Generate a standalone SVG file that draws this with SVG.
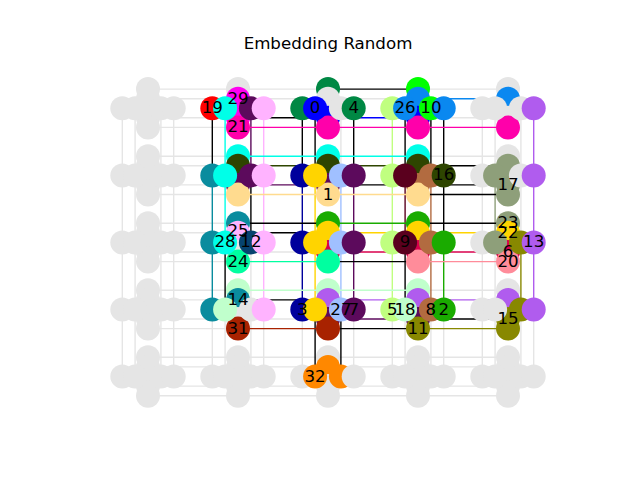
<svg xmlns="http://www.w3.org/2000/svg" width="640" height="480" viewBox="0 0 640 480">
<style>
#edges line{stroke-width:1.4;fill:none}
#nodes circle{stroke:none}
text{font-family:"DejaVu Sans","Liberation Sans",sans-serif;fill:#000}
.lbl{font-size:16.67px;text-anchor:middle}
.g{fill:#e5e5e5;stroke:#e5e5e5}
.k{stroke:#000}
.c0{fill:#0000ff;stroke:#0000ff}
.c1{fill:#ffdb8f;stroke:#ffdb8f}
.c2{fill:#1aab00;stroke:#1aab00}
.c3{fill:#00009c;stroke:#00009c}
.c4{fill:#008844;stroke:#008844}
.c5{fill:#c0ff80;stroke:#c0ff80}
.c6{fill:#d9004c;stroke:#d9004c}
.c7{fill:#5c0a5c;stroke:#5c0a5c}
.c8{fill:#b26b40;stroke:#b26b40}
.c9{fill:#5a001e;stroke:#5a001e}
.c10{fill:#00ff00;stroke:#00ff00}
.c11{fill:#888800;stroke:#888800}
.c12{fill:#06436f;stroke:#06436f}
.c13{fill:#b05cee;stroke:#b05cee}
.c14{fill:#0a8c9e;stroke:#0a8c9e}
.c15{fill:#888800;stroke:#888800}
.c16{fill:#2e4500;stroke:#2e4500}
.c17{fill:#8e9f7a;stroke:#8e9f7a}
.c18{fill:#c0ffcc;stroke:#c0ffcc}
.c19{fill:#ff0000;stroke:#ff0000}
.c20{fill:#ff8c9a;stroke:#ff8c9a}
.c21{fill:#ff00aa;stroke:#ff00aa}
.c22{fill:#ffd400;stroke:#ffd400}
.c23{fill:#8e9f7a;stroke:#8e9f7a}
.c24{fill:#00ffa0;stroke:#00ffa0}
.c25{fill:#ffb3ff;stroke:#ffb3ff}
.c26{fill:#0a88f0;stroke:#0a88f0}
.c27{fill:#a0c0ff;stroke:#a0c0ff}
.c28{fill:#00ffe8;stroke:#00ffe8}
.c29{fill:#ff00f0;stroke:#ff00f0}
.c31{fill:#a82200;stroke:#a82200}
.c32{fill:#ff8800;stroke:#ff8800}
</style>
<rect width="640" height="480" fill="#ffffff"/>
<text x="328" y="49.3" font-size="16.67" text-anchor="middle">Embedding Random</text>
<g id="edges">
<g id="unused-edges">
<line class="g" x1="122.3" y1="108.3" x2="122.3" y2="376.5"/>
<line class="g" x1="135.1" y1="108.3" x2="135.1" y2="376.5"/>
<line class="g" x1="160.9" y1="108.3" x2="160.9" y2="376.5"/>
<line class="g" x1="173.7" y1="108.3" x2="173.7" y2="376.5"/>
<line class="g" x1="212.3" y1="309.5" x2="212.3" y2="376.5"/>
<line class="g" x1="225.1" y1="309.5" x2="225.1" y2="376.5"/>
<line class="g" x1="250.9" y1="242.4" x2="250.9" y2="376.5"/>
<line class="g" x1="263.7" y1="309.5" x2="263.7" y2="376.5"/>
<line class="g" x1="302.3" y1="309.5" x2="302.3" y2="376.5"/>
<line class="g" x1="340.9" y1="108.3" x2="340.9" y2="175.4"/>
<line class="g" x1="353.7" y1="309.5" x2="353.7" y2="376.5"/>
<line class="g" x1="392.3" y1="309.5" x2="392.3" y2="376.5"/>
<line class="g" x1="405.1" y1="309.5" x2="405.1" y2="376.5"/>
<line class="g" x1="430.9" y1="309.5" x2="430.9" y2="376.5"/>
<line class="g" x1="443.7" y1="309.5" x2="443.7" y2="376.5"/>
<line class="g" x1="482.3" y1="108.3" x2="482.3" y2="376.5"/>
<line class="g" x1="495.1" y1="108.3" x2="495.1" y2="175.4"/>
<line class="g" x1="495.1" y1="242.4" x2="495.1" y2="376.5"/>
<line class="g" x1="520.9" y1="108.3" x2="520.9" y2="242.4"/>
<line class="g" x1="520.9" y1="309.5" x2="520.9" y2="376.5"/>
<line class="g" x1="533.7" y1="309.5" x2="533.7" y2="376.5"/>
<line class="g" x1="148" y1="89.1" x2="328" y2="89.1"/>
<line class="g" x1="418" y1="89.1" x2="508" y2="89.1"/>
<line class="g" x1="148" y1="98.7" x2="418" y2="98.7"/>
<line class="g" x1="148" y1="117.8" x2="238" y2="117.8"/>
<line class="g" x1="418" y1="117.8" x2="508" y2="117.8"/>
<line class="g" x1="148" y1="127.4" x2="238" y2="127.4"/>
<line class="g" x1="148" y1="156.2" x2="238" y2="156.2"/>
<line class="g" x1="418" y1="156.2" x2="508" y2="156.2"/>
<line class="g" x1="148" y1="165.8" x2="238" y2="165.8"/>
<line class="g" x1="148" y1="184.9" x2="238" y2="184.9"/>
<line class="g" x1="148" y1="194.5" x2="238" y2="194.5"/>
<line class="g" x1="148" y1="223.2" x2="238" y2="223.2"/>
<line class="g" x1="148" y1="232.8" x2="238" y2="232.8"/>
<line class="g" x1="148" y1="252" x2="328" y2="252"/>
<line class="g" x1="148" y1="261.6" x2="238" y2="261.6"/>
<line class="g" x1="148" y1="290.3" x2="238" y2="290.3"/>
<line class="g" x1="418" y1="290.3" x2="508" y2="290.3"/>
<line class="g" x1="148" y1="299.9" x2="238" y2="299.9"/>
<line class="g" x1="148" y1="319" x2="328" y2="319"/>
<line class="g" x1="148" y1="328.6" x2="238" y2="328.6"/>
<line class="g" x1="148" y1="357.3" x2="508" y2="357.3"/>
<line class="g" x1="148" y1="366.9" x2="508" y2="366.9"/>
<line class="g" x1="148" y1="386.1" x2="508" y2="386.1"/>
<line class="g" x1="148" y1="395.7" x2="508" y2="395.7"/>
</g>
<g id="chain-edges">
<line class="k" x1="212.3" y1="108.3" x2="212.3" y2="175.4"/>
<line class="c14" x1="212.3" y1="175.4" x2="212.3" y2="309.5"/>
<line class="c28" x1="225.1" y1="108.3" x2="225.1" y2="242.4"/>
<line class="k" x1="225.1" y1="242.4" x2="225.1" y2="309.5"/>
<line class="c7" x1="250.9" y1="108.3" x2="250.9" y2="175.4"/>
<line class="k" x1="250.9" y1="175.4" x2="250.9" y2="242.4"/>
<line class="c25" x1="263.7" y1="108.3" x2="263.7" y2="309.5"/>
<line class="k" x1="302.3" y1="108.3" x2="302.3" y2="175.4"/>
<line class="c3" x1="302.3" y1="175.4" x2="302.3" y2="309.5"/>
<line class="k" x1="315.1" y1="108.3" x2="315.1" y2="175.4"/>
<line class="c22" x1="315.1" y1="175.4" x2="315.1" y2="309.5"/>
<line class="k" x1="315.1" y1="309.5" x2="315.1" y2="376.5"/>
<line class="c27" x1="340.9" y1="175.4" x2="340.9" y2="309.5"/>
<line class="k" x1="340.9" y1="309.5" x2="340.9" y2="376.5"/>
<line class="k" x1="353.7" y1="108.3" x2="353.7" y2="175.4"/>
<line class="c7" x1="353.7" y1="175.4" x2="353.7" y2="309.5"/>
<line class="c5" x1="392.3" y1="108.3" x2="392.3" y2="309.5"/>
<line class="k" x1="405.1" y1="108.3" x2="405.1" y2="175.4"/>
<line class="c9" x1="405.1" y1="175.4" x2="405.1" y2="242.4"/>
<line class="k" x1="405.1" y1="242.4" x2="405.1" y2="309.5"/>
<line class="k" x1="430.9" y1="108.3" x2="430.9" y2="175.4"/>
<line class="c8" x1="430.9" y1="175.4" x2="430.9" y2="309.5"/>
<line class="k" x1="443.7" y1="108.3" x2="443.7" y2="242.4"/>
<line class="c2" x1="443.7" y1="242.4" x2="443.7" y2="309.5"/>
<line class="c17" x1="495.1" y1="175.4" x2="495.1" y2="242.4"/>
<line class="c15" x1="520.9" y1="242.4" x2="520.9" y2="309.5"/>
<line class="c13" x1="533.7" y1="108.3" x2="533.7" y2="309.5"/>
<line class="k" x1="328" y1="89.1" x2="418" y2="89.1"/>
<line class="c26" x1="418" y1="98.7" x2="508" y2="98.7"/>
<line class="k" x1="238" y1="117.8" x2="328" y2="117.8"/>
<line class="c0" x1="328" y1="117.8" x2="418" y2="117.8"/>
<line class="c21" x1="238" y1="127.4" x2="508" y2="127.4"/>
<line class="c28" x1="238" y1="156.2" x2="418" y2="156.2"/>
<line class="c16" x1="238" y1="165.8" x2="418" y2="165.8"/>
<line class="k" x1="418" y1="165.8" x2="508" y2="165.8"/>
<line class="c7" x1="238" y1="184.9" x2="328" y2="184.9"/>
<line class="k" x1="328" y1="184.9" x2="508" y2="184.9"/>
<line class="c1" x1="238" y1="194.5" x2="418" y2="194.5"/>
<line class="k" x1="418" y1="194.5" x2="508" y2="194.5"/>
<line class="k" x1="238" y1="223.2" x2="328" y2="223.2"/>
<line class="c2" x1="328" y1="223.2" x2="418" y2="223.2"/>
<line class="k" x1="418" y1="223.2" x2="508" y2="223.2"/>
<line class="k" x1="238" y1="232.8" x2="328" y2="232.8"/>
<line class="c22" x1="328" y1="232.8" x2="508" y2="232.8"/>
<line class="c6" x1="328" y1="252" x2="508" y2="252"/>
<line class="c24" x1="238" y1="261.6" x2="328" y2="261.6"/>
<line class="k" x1="328" y1="261.6" x2="418" y2="261.6"/>
<line class="c20" x1="418" y1="261.6" x2="508" y2="261.6"/>
<line class="c18" x1="238" y1="290.3" x2="418" y2="290.3"/>
<line class="k" x1="238" y1="299.9" x2="328" y2="299.9"/>
<line class="c13" x1="328" y1="299.9" x2="508" y2="299.9"/>
<line class="c7" x1="328" y1="319" x2="418" y2="319"/>
<line class="k" x1="418" y1="319" x2="508" y2="319"/>
<line class="c31" x1="238" y1="328.6" x2="328" y2="328.6"/>
<line class="k" x1="328" y1="328.6" x2="418" y2="328.6"/>
<line class="c11" x1="418" y1="328.6" x2="508" y2="328.6"/>
</g>
</g>
<g id="nodes">
<g id="t00"><circle class="g" cx="148" cy="89.1" r="12"/><circle class="g" cx="148" cy="98.7" r="12"/><circle class="g" cx="148" cy="117.8" r="12"/><circle class="g" cx="148" cy="127.4" r="12"/><circle class="g" cx="122.3" cy="108.3" r="12"/><circle class="g" cx="135.1" cy="108.3" r="12"/><circle class="g" cx="160.9" cy="108.3" r="12"/><circle class="g" cx="173.7" cy="108.3" r="12"/></g>
<g id="t01"><circle class="g" cx="238" cy="89.1" r="12"/><circle class="c29" cx="238" cy="98.7" r="12"/><circle class="c29" cx="238" cy="117.8" r="12"/><circle class="c21" cx="238" cy="127.4" r="12"/><circle class="c19" cx="212.3" cy="108.3" r="12"/><circle class="c28" cx="225.1" cy="108.3" r="12"/><circle class="c7" cx="250.9" cy="108.3" r="12"/><circle class="c25" cx="263.7" cy="108.3" r="12"/></g>
<g id="t02"><circle class="c4" cx="328" cy="89.1" r="12"/><circle class="g" cx="328" cy="98.7" r="12"/><circle class="c0" cx="328" cy="117.8" r="12"/><circle class="c21" cx="328" cy="127.4" r="12"/><circle class="c4" cx="302.3" cy="108.3" r="12"/><circle class="c0" cx="315.1" cy="108.3" r="12"/><circle class="g" cx="340.9" cy="108.3" r="12"/><circle class="c4" cx="353.7" cy="108.3" r="12"/></g>
<g id="t03"><circle class="c10" cx="418" cy="89.1" r="12"/><circle class="c26" cx="418" cy="98.7" r="12"/><circle class="c0" cx="418" cy="117.8" r="12"/><circle class="c21" cx="418" cy="127.4" r="12"/><circle class="c5" cx="392.3" cy="108.3" r="12"/><circle class="c26" cx="405.1" cy="108.3" r="12"/><circle class="c10" cx="430.9" cy="108.3" r="12"/><circle class="c26" cx="443.7" cy="108.3" r="12"/></g>
<g id="t04"><circle class="g" cx="508" cy="89.1" r="12"/><circle class="c26" cx="508" cy="98.7" r="12"/><circle class="g" cx="508" cy="117.8" r="12"/><circle class="c21" cx="508" cy="127.4" r="12"/><circle class="g" cx="482.3" cy="108.3" r="12"/><circle class="g" cx="495.1" cy="108.3" r="12"/><circle class="g" cx="520.9" cy="108.3" r="12"/><circle class="c13" cx="533.7" cy="108.3" r="12"/></g>
<g id="t10"><circle class="g" cx="148" cy="156.2" r="12"/><circle class="g" cx="148" cy="165.8" r="12"/><circle class="g" cx="148" cy="184.9" r="12"/><circle class="g" cx="148" cy="194.5" r="12"/><circle class="g" cx="122.3" cy="175.4" r="12"/><circle class="g" cx="135.1" cy="175.4" r="12"/><circle class="g" cx="160.9" cy="175.4" r="12"/><circle class="g" cx="173.7" cy="175.4" r="12"/></g>
<g id="t11"><circle class="c28" cx="238" cy="156.2" r="12"/><circle class="c16" cx="238" cy="165.8" r="12"/><circle class="c7" cx="238" cy="184.9" r="12"/><circle class="c1" cx="238" cy="194.5" r="12"/><circle class="c14" cx="212.3" cy="175.4" r="12"/><circle class="c28" cx="225.1" cy="175.4" r="12"/><circle class="c7" cx="250.9" cy="175.4" r="12"/><circle class="c25" cx="263.7" cy="175.4" r="12"/></g>
<g id="t12"><circle class="c28" cx="328" cy="156.2" r="12"/><circle class="c16" cx="328" cy="165.8" r="12"/><circle class="c7" cx="328" cy="184.9" r="12"/><circle class="c1" cx="328" cy="194.5" r="12"/><circle class="c3" cx="302.3" cy="175.4" r="12"/><circle class="c22" cx="315.1" cy="175.4" r="12"/><circle class="c27" cx="340.9" cy="175.4" r="12"/><circle class="c7" cx="353.7" cy="175.4" r="12"/></g>
<g id="t13"><circle class="c28" cx="418" cy="156.2" r="12"/><circle class="c16" cx="418" cy="165.8" r="12"/><circle class="c8" cx="418" cy="184.9" r="12"/><circle class="c1" cx="418" cy="194.5" r="12"/><circle class="c5" cx="392.3" cy="175.4" r="12"/><circle class="c9" cx="405.1" cy="175.4" r="12"/><circle class="c8" cx="430.9" cy="175.4" r="12"/><circle class="c16" cx="443.7" cy="175.4" r="12"/></g>
<g id="t14"><circle class="g" cx="508" cy="156.2" r="12"/><circle class="c17" cx="508" cy="165.8" r="12"/><circle class="c17" cx="508" cy="184.9" r="12"/><circle class="c17" cx="508" cy="194.5" r="12"/><circle class="g" cx="482.3" cy="175.4" r="12"/><circle class="c17" cx="495.1" cy="175.4" r="12"/><circle class="g" cx="520.9" cy="175.4" r="12"/><circle class="c13" cx="533.7" cy="175.4" r="12"/></g>
<g id="t20"><circle class="g" cx="148" cy="223.2" r="12"/><circle class="g" cx="148" cy="232.8" r="12"/><circle class="g" cx="148" cy="252" r="12"/><circle class="g" cx="148" cy="261.6" r="12"/><circle class="g" cx="122.3" cy="242.4" r="12"/><circle class="g" cx="135.1" cy="242.4" r="12"/><circle class="g" cx="160.9" cy="242.4" r="12"/><circle class="g" cx="173.7" cy="242.4" r="12"/></g>
<g id="t21"><circle class="c14" cx="238" cy="223.2" r="12"/><circle class="c25" cx="238" cy="232.8" r="12"/><circle class="g" cx="238" cy="252" r="12"/><circle class="c24" cx="238" cy="261.6" r="12"/><circle class="c14" cx="212.3" cy="242.4" r="12"/><circle class="c28" cx="225.1" cy="242.4" r="12"/><circle class="c12" cx="250.9" cy="242.4" r="12"/><circle class="c25" cx="263.7" cy="242.4" r="12"/></g>
<g id="t22"><circle class="c2" cx="328" cy="223.2" r="12"/><circle class="c22" cx="328" cy="232.8" r="12"/><circle class="c6" cx="328" cy="252" r="12"/><circle class="c24" cx="328" cy="261.6" r="12"/><circle class="c3" cx="302.3" cy="242.4" r="12"/><circle class="c22" cx="315.1" cy="242.4" r="12"/><circle class="c27" cx="340.9" cy="242.4" r="12"/><circle class="c7" cx="353.7" cy="242.4" r="12"/></g>
<g id="t23"><circle class="c2" cx="418" cy="223.2" r="12"/><circle class="c22" cx="418" cy="232.8" r="12"/><circle class="c6" cx="418" cy="252" r="12"/><circle class="c20" cx="418" cy="261.6" r="12"/><circle class="c5" cx="392.3" cy="242.4" r="12"/><circle class="c9" cx="405.1" cy="242.4" r="12"/><circle class="c8" cx="430.9" cy="242.4" r="12"/><circle class="c2" cx="443.7" cy="242.4" r="12"/></g>
<g id="t24"><circle class="c23" cx="508" cy="223.2" r="12"/><circle class="c22" cx="508" cy="232.8" r="12"/><circle class="c6" cx="508" cy="252" r="12"/><circle class="c20" cx="508" cy="261.6" r="12"/><circle class="g" cx="482.3" cy="242.4" r="12"/><circle class="c23" cx="495.1" cy="242.4" r="12"/><circle class="c15" cx="520.9" cy="242.4" r="12"/><circle class="c13" cx="533.7" cy="242.4" r="12"/></g>
<g id="t30"><circle class="g" cx="148" cy="290.3" r="12"/><circle class="g" cx="148" cy="299.9" r="12"/><circle class="g" cx="148" cy="319" r="12"/><circle class="g" cx="148" cy="328.6" r="12"/><circle class="g" cx="122.3" cy="309.5" r="12"/><circle class="g" cx="135.1" cy="309.5" r="12"/><circle class="g" cx="160.9" cy="309.5" r="12"/><circle class="g" cx="173.7" cy="309.5" r="12"/></g>
<g id="t31"><circle class="c18" cx="238" cy="290.3" r="12"/><circle class="c14" cx="238" cy="299.9" r="12"/><circle class="g" cx="238" cy="319" r="12"/><circle class="c31" cx="238" cy="328.6" r="12"/><circle class="c14" cx="212.3" cy="309.5" r="12"/><circle class="c18" cx="225.1" cy="309.5" r="12"/><circle class="g" cx="250.9" cy="309.5" r="12"/><circle class="c25" cx="263.7" cy="309.5" r="12"/></g>
<g id="t32"><circle class="c18" cx="328" cy="290.3" r="12"/><circle class="c13" cx="328" cy="299.9" r="12"/><circle class="c7" cx="328" cy="319" r="12"/><circle class="c31" cx="328" cy="328.6" r="12"/><circle class="c3" cx="302.3" cy="309.5" r="12"/><circle class="c22" cx="315.1" cy="309.5" r="12"/><circle class="c27" cx="340.9" cy="309.5" r="12"/><circle class="c7" cx="353.7" cy="309.5" r="12"/></g>
<g id="t33"><circle class="c18" cx="418" cy="290.3" r="12"/><circle class="c13" cx="418" cy="299.9" r="12"/><circle class="c7" cx="418" cy="319" r="12"/><circle class="c11" cx="418" cy="328.6" r="12"/><circle class="c5" cx="392.3" cy="309.5" r="12"/><circle class="c18" cx="405.1" cy="309.5" r="12"/><circle class="c8" cx="430.9" cy="309.5" r="12"/><circle class="c2" cx="443.7" cy="309.5" r="12"/></g>
<g id="t34"><circle class="g" cx="508" cy="290.3" r="12"/><circle class="c13" cx="508" cy="299.9" r="12"/><circle class="c15" cx="508" cy="319" r="12"/><circle class="c11" cx="508" cy="328.6" r="12"/><circle class="g" cx="482.3" cy="309.5" r="12"/><circle class="g" cx="495.1" cy="309.5" r="12"/><circle class="c15" cx="520.9" cy="309.5" r="12"/><circle class="c13" cx="533.7" cy="309.5" r="12"/></g>
<g id="t40"><circle class="g" cx="148" cy="357.3" r="12"/><circle class="g" cx="148" cy="366.9" r="12"/><circle class="g" cx="148" cy="386.1" r="12"/><circle class="g" cx="148" cy="395.7" r="12"/><circle class="g" cx="122.3" cy="376.5" r="12"/><circle class="g" cx="135.1" cy="376.5" r="12"/><circle class="g" cx="160.9" cy="376.5" r="12"/><circle class="g" cx="173.7" cy="376.5" r="12"/></g>
<g id="t41"><circle class="g" cx="238" cy="357.3" r="12"/><circle class="g" cx="238" cy="366.9" r="12"/><circle class="g" cx="238" cy="386.1" r="12"/><circle class="g" cx="238" cy="395.7" r="12"/><circle class="g" cx="212.3" cy="376.5" r="12"/><circle class="g" cx="225.1" cy="376.5" r="12"/><circle class="g" cx="250.9" cy="376.5" r="12"/><circle class="g" cx="263.7" cy="376.5" r="12"/></g>
<g id="t42"><circle class="g" cx="328" cy="357.3" r="12"/><circle class="c32" cx="328" cy="366.9" r="12"/><circle class="g" cx="328" cy="386.1" r="12"/><circle class="g" cx="328" cy="395.7" r="12"/><circle class="g" cx="302.3" cy="376.5" r="12"/><circle class="c32" cx="315.1" cy="376.5" r="12"/><circle class="c32" cx="340.9" cy="376.5" r="12"/><circle class="g" cx="353.7" cy="376.5" r="12"/></g>
<g id="t43"><circle class="g" cx="418" cy="357.3" r="12"/><circle class="g" cx="418" cy="366.9" r="12"/><circle class="g" cx="418" cy="386.1" r="12"/><circle class="g" cx="418" cy="395.7" r="12"/><circle class="g" cx="392.3" cy="376.5" r="12"/><circle class="g" cx="405.1" cy="376.5" r="12"/><circle class="g" cx="430.9" cy="376.5" r="12"/><circle class="g" cx="443.7" cy="376.5" r="12"/></g>
<g id="t44"><circle class="g" cx="508" cy="357.3" r="12"/><circle class="g" cx="508" cy="366.9" r="12"/><circle class="g" cx="508" cy="386.1" r="12"/><circle class="g" cx="508" cy="395.7" r="12"/><circle class="g" cx="482.3" cy="376.5" r="12"/><circle class="g" cx="495.1" cy="376.5" r="12"/><circle class="g" cx="520.9" cy="376.5" r="12"/><circle class="g" cx="533.7" cy="376.5" r="12"/></g>
</g>
<g id="labels" class="lbl">
<text x="212.3" y="113.3">19</text>
<text x="238" y="103.7">29</text>
<text x="238" y="132.4">21</text>
<text x="315.1" y="113.3">0</text>
<text x="353.7" y="113.3">4</text>
<text x="405.1" y="113.3">26</text>
<text x="430.9" y="113.3">10</text>
<text x="443.7" y="180.4">16</text>
<text x="508" y="189.9">17</text>
<text x="328" y="199.5">1</text>
<text x="238" y="236">25</text>
<text x="225.1" y="247.4">28</text>
<text x="250.9" y="247.4">12</text>
<text x="238" y="266.6">24</text>
<text x="405.1" y="247.4">9</text>
<text x="508" y="228.2">23</text>
<text x="508" y="237.8">22</text>
<text x="508" y="257">6</text>
<text x="508" y="266.6">20</text>
<text x="533.7" y="247.4">13</text>
<text x="238" y="304.9">14</text>
<text x="238" y="333.6">31</text>
<text x="302.3" y="314.5">3</text>
<text x="340.9" y="314.5">27</text>
<text x="353.7" y="314.5">7</text>
<text x="392.3" y="314.5">5</text>
<text x="405.1" y="314.5">18</text>
<text x="430.9" y="314.5">8</text>
<text x="443.7" y="314.5">2</text>
<text x="418" y="333.6">11</text>
<text x="508" y="324">15</text>
<text x="315.1" y="381.5">32</text>
</g>
</svg>
